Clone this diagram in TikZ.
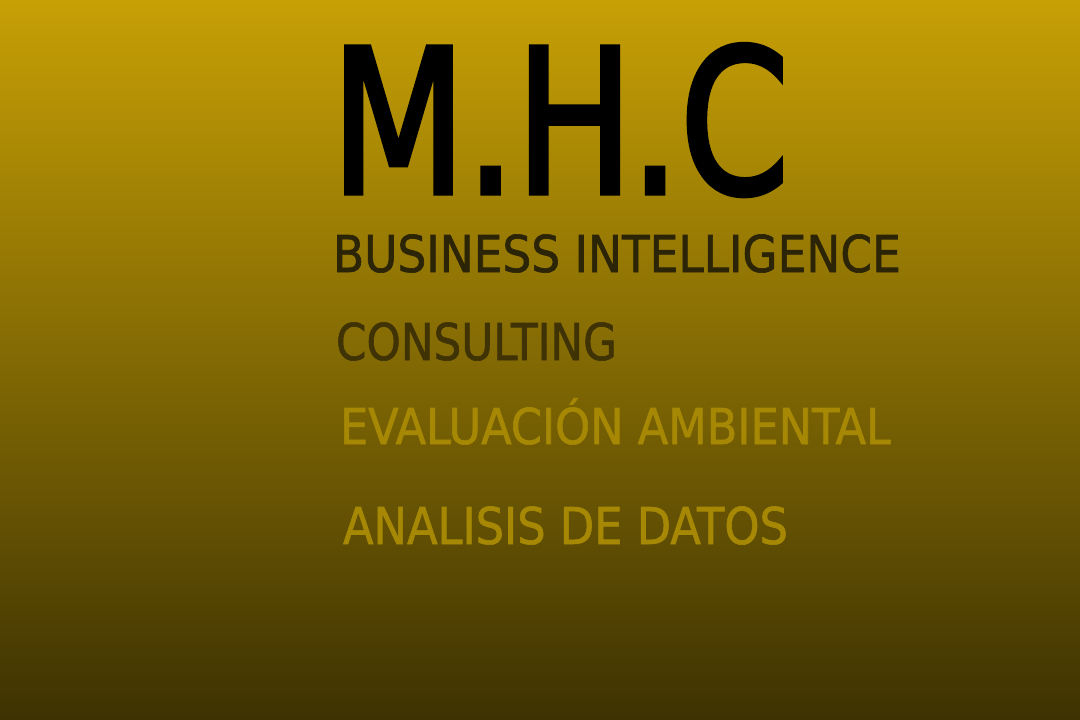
\documentclass[tikz,border=0pt]{standalone}
\usepackage{fontspec}
\usepackage{graphicx}
\setmainfont{DejaVu Sans Condensed}
\newfontfamily\titlefont[FakeBold=2.5]{DejaVu Sans Condensed}
\newfontfamily\servicefont[FakeBold=1.2]{DejaVu Sans Condensed}
\usetikzlibrary{positioning}

\definecolor{bgtop}{HTML}{C7A005}
\definecolor{bgbottom}{HTML}{3D3202}
\definecolor{inkdark}{HTML}{2B2406}
\definecolor{inkbrown}{HTML}{3F3306}
\definecolor{inkgold}{HTML}{A68804}

% text fitted to a width (#1) at a cap height (#2)
\newsavebox\linebox
\newcommand\fitline[3]{%
  \pgfmathsetmacro\fsize{#2/0.729}%
  \sbox\linebox{\fontsize{\fsize pt}{\fsize pt}\selectfont #3}%
  \pgfmathsetmacro\xfac{#1/\wd\linebox}%
  \scalebox{\xfac}[1]{\usebox\linebox}}

\tikzset{
  brandline/.style={anchor=base west, inner sep=0pt, outer sep=0pt, font=\servicefont}
}

\begin{document}
\begin{tikzpicture}[x=1pt,y=-1pt]
% Background
\shade[top color=bgtop, bottom color=bgbottom] (0,0) rectangle (1080,720);
\useasboundingbox (0,0) rectangle (1080,720);

% Title
\node[brandline, font=\titlefont, text=black] (mhc) at (331,193) {\fitline{458}{146}{M.H.C}};

% Services
\node[brandline, text=inkdark] (bi) at (333,272) {\fitline{568}{37}{BUSINESS INTELLIGENCE}};
\node[brandline, text=inkbrown] (consulting) at (336,360) {\fitline{281}{37}{CONSULTING}};
\node[brandline, text=inkgold] (evaluacion) at (340,444) {\fitline{551}{36}{EVALUACIÓN AMBIENTAL}};
\node[brandline, text=inkgold] (analisis) at (343,544) {\fitline{445}{37}{ANALISIS DE DATOS}};
\end{tikzpicture}
\end{document}
